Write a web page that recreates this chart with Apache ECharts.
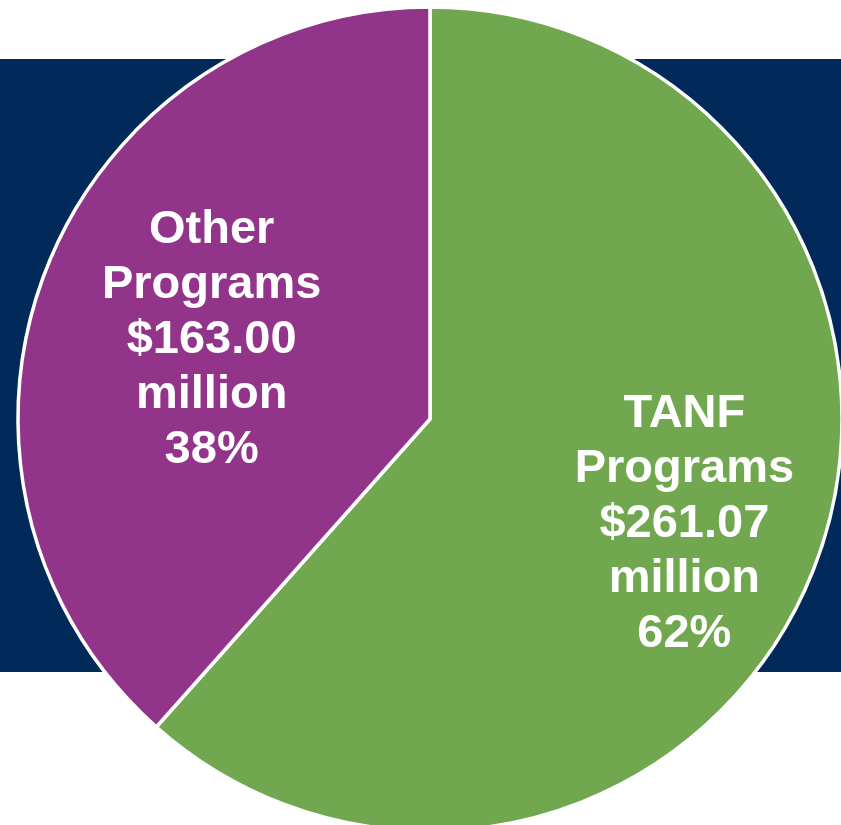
<!doctype html>
<html>
    <head>
        <meta charset="utf-8">
        <title>Program spending pie</title>
        <style>
            html, body { margin: 0; padding: 0; background: #fff; }
            #main { width: 841px; height: 825px; }
        </style>
    </head>
    <body>
        <div id="main"></div>
        <script src="https://cdn.jsdelivr.net/npm/echarts@6/dist/echarts.min.js"></script>
        <script>
            // data
            var names = ['TANF\nPrograms', 'Other\nPrograms'];
            var values = [261.07, 163.00];
            var colors = ['#71a84f', '#93348b'];
            var labelOffsets = [[59, 31], [-23, -5]];

            var chart = echarts.init(document.getElementById('main'));

            var data = names.map(function (n, i) {
                return {
                    name: n,
                    value: values[i],
                    itemStyle: { color: colors[i] },
                    label: { offset: labelOffsets[i] }
                };
            });

            chart.setOption({
                animation: false,
                graphic: [{
                    type: 'rect',
                    z: -10,
                    shape: { x: 0, y: 59, width: 841, height: 613 },
                    style: { fill: '#012a5b' }
                }],
                series: [{
                    type: 'pie',
                    center: [430, 419],
                    radius: 412,
                    startAngle: 90,
                    clockwise: true,
                    silent: true,
                    data: data,
                    itemStyle: {
                        borderColor: '#fff',
                        borderWidth: 3.5
                    },
                    label: {
                        position: 'inside',
                        color: '#fff',
                        fontFamily: 'Liberation Sans, Arial, sans-serif',
                        fontWeight: 'bold',
                        fontSize: 47,
                        lineHeight: 55,
                        formatter: function (p) {
                            return p.name + '\n$' + p.value.toFixed(2) + '\nmillion\n' + Math.round(p.percent) + '%';
                        }
                    },
                    labelLine: { show: false }
                }]
            });
        </script>
    </body>
</html>
